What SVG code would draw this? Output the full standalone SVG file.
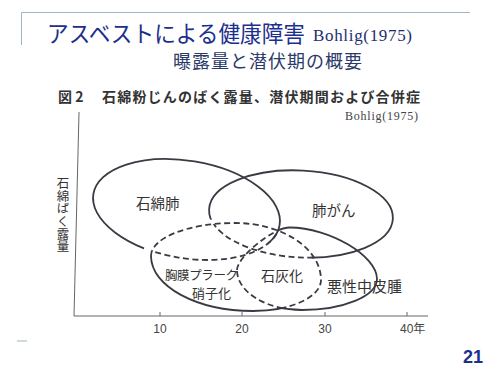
<svg xmlns="http://www.w3.org/2000/svg" width="500" height="375" viewBox="0 0 500 375">
<style>
.jp{font-family:"Noto Sans CJK JP","Noto Sans CJK SC",sans-serif}
.lbl{font-family:"Noto Sans CJK JP",sans-serif;fill:#333}
.sol{fill:none;stroke:#3a3a44;stroke-width:1.8}
.dsh{fill:none;stroke:#3a3a44;stroke-width:1.8;stroke-dasharray:6 3.5}
.ax{stroke:#666;stroke-width:1;fill:none}
.num{font-family:"Liberation Sans",Arial,sans-serif;font-size:12px;fill:#444}
</style>
<defs>
<clipPath id="inP"><path d="M151,256 C151,237.8 188.6,223 235,223 C282.5,223 321,248.5 321,280 C321,297.1 290.6,311 253,311 C196.7,311 151,286.4 151,256Z"/></clipPath>
<clipPath id="outP"><path clip-rule="evenodd" d="M0,0H500V375H0Z M151,256 C151,237.8 188.6,223 235,223 C282.5,223 321,248.5 321,280 C321,297.1 290.6,311 253,311 C196.7,311 151,286.4 151,256Z"/></clipPath>
<clipPath id="inALM">
<ellipse cx="186.5" cy="209.5" rx="94.4" ry="48.7" transform="rotate(9.5 186.5 209.5)"/>
<ellipse cx="301" cy="214" rx="92" ry="43.5" transform="rotate(3 301 214)"/>
<path d="M237,270 C237,257 273,227.5 290,227.5 C329.2,227.5 377,255.8 377,279 C377,296.1 343.4,310 302,310 C266.1,310 237,292.1 237,270Z"/>
</clipPath>
<clipPath id="outA"><path clip-rule="evenodd" transform="rotate(9.5 186.5 209.5)" d="M-500,-500H1000V1000H-500Z M92.1,209.5 A94.4,48.7 0 1 0 280.9,209.5 A94.4,48.7 0 1 0 92.1,209.5Z"/></clipPath>
<clipPath id="outL"><path clip-rule="evenodd" transform="rotate(3 301 214)" d="M-500,-500H1000V1000H-500Z M209,214 A92,43.5 0 1 0 393,214 A92,43.5 0 1 0 209,214Z"/></clipPath>
<clipPath id="outM"><path clip-rule="evenodd" d="M0,0H500V375H0Z M237,270 C237,257 273,227.5 290,227.5 C329.2,227.5 377,255.8 377,279 C377,296.1 343.4,310 302,310 C266.1,310 237,292.1 237,270Z"/></clipPath>
</defs>
<rect width="500" height="375" fill="#fff"/>

<g id="slide-frame">
<path d="M21.5,45 V12.5 H470" fill="none" stroke="#9cb6c2" stroke-width="1"/>
<path d="M17,341 H27" stroke="#9cb6c2" stroke-width="1"/>
</g>

<g id="title">
<text x="47" y="42" class="jp" font-size="23" fill="#1c2f8c" textLength="258" lengthAdjust="spacingAndGlyphs">アスベストによる健康障害</text>
<text x="313" y="41" font-family="Liberation Serif,serif" font-size="17" fill="#1f2d70" textLength="99">Bohlig(1975)</text>
<text x="173" y="68" class="jp" font-size="18" fill="#2b3a6b" textLength="189">曝露量と潜伏期の概要</text>
</g>

<g id="caption">
<text x="58" y="102" class="jp" font-size="14" font-weight="700" fill="#333">図 2</text>
<text x="102" y="102" class="jp" font-size="14" font-weight="700" fill="#333" textLength="318">石綿粉じんのばく露量、潜伏期間および合併症</text>
<text x="345" y="120" font-family="Liberation Serif,serif" font-size="12" fill="#444" textLength="73">Bohlig(1975)</text>
</g>

<g id="axes">
<path class="ax" d="M79,112 L74,316 H428"/>
<path class="ax" d="M160,316 v-4 M242,316 v-4 M325,316 v-4 M407,316 v-4"/>
<text class="num" x="160" y="333" text-anchor="middle">10</text>
<text class="num" x="242" y="333" text-anchor="middle">20</text>
<text class="num" x="325" y="333" text-anchor="middle">30</text>
<text class="num" x="400" y="333">40<tspan class="jp">年</tspan></text>
<text x="63" y="177" class="lbl" font-size="12.5" style="writing-mode:vertical-rl;text-orientation:upright;letter-spacing:0.2px">石綿ばく露量</text>
</g>

<g id="asbestosis">
<ellipse class="sol" clip-path="url(#outP)" cx="186.5" cy="209.5" rx="94.4" ry="48.7" transform="rotate(9.5 186.5 209.5)"/>
<g clip-path="url(#inP)"><ellipse class="dsh" cx="186.5" cy="209.5" rx="94.4" ry="48.7" transform="rotate(9.5 186.5 209.5)"/></g>
<text x="136" y="209" class="lbl" font-size="14.5">石綿肺</text>
</g>

<g id="lung-cancer">
<ellipse class="sol" clip-path="url(#outP)" cx="301" cy="214" rx="92" ry="43.5" transform="rotate(3 301 214)"/>
<g clip-path="url(#inP)"><ellipse class="dsh" cx="301" cy="214" rx="92" ry="43.5" transform="rotate(3 301 214)"/></g>
<text x="312" y="216" class="lbl" font-size="14.5">肺がん</text>
</g>

<g id="pleural-plaque">
<g clip-path="url(#outA)"><g clip-path="url(#outL)"><path class="sol" clip-path="url(#outM)" d="M151,256 C151,237.8 188.6,223 235,223 C282.5,223 321,248.5 321,280 C321,297.1 290.6,311 253,311 C196.7,311 151,286.4 151,256Z"/></g></g>
<path class="dsh" clip-path="url(#inALM)" d="M151,256 C151,237.8 188.6,223 235,223 C282.5,223 321,248.5 321,280 C321,297.1 290.6,311 253,311 C196.7,311 151,286.4 151,256Z"/>
<text x="165" y="279.5" class="lbl" font-size="12.5" textLength="73">胸膜プラーク</text>
<text x="192" y="298" class="lbl" font-size="13">硝子化</text>
</g>

<g id="calcification">
<text x="261" y="281" class="lbl" font-size="14">石灰化</text>
</g>

<g id="mesothelioma">
<path class="sol" clip-path="url(#outP)" d="M237,270 C237,257 273,227.5 290,227.5 C329.2,227.5 377,255.8 377,279 C377,296.1 343.4,310 302,310 C266.1,310 237,292.1 237,270Z"/>
<g clip-path="url(#inP)"><path class="dsh" d="M237,270 C237,257 273,227.5 290,227.5 C329.2,227.5 377,255.8 377,279 C377,296.1 343.4,310 302,310 C266.1,310 237,292.1 237,270Z"/></g>
<text x="327" y="292" class="lbl" font-size="15">悪性中皮腫</text>
</g>

<g id="connectors"/>

<text x="463" y="363" font-family="Liberation Sans,Arial,sans-serif" font-size="18" font-weight="700" fill="#1c2f8c">21</text>
</svg>
